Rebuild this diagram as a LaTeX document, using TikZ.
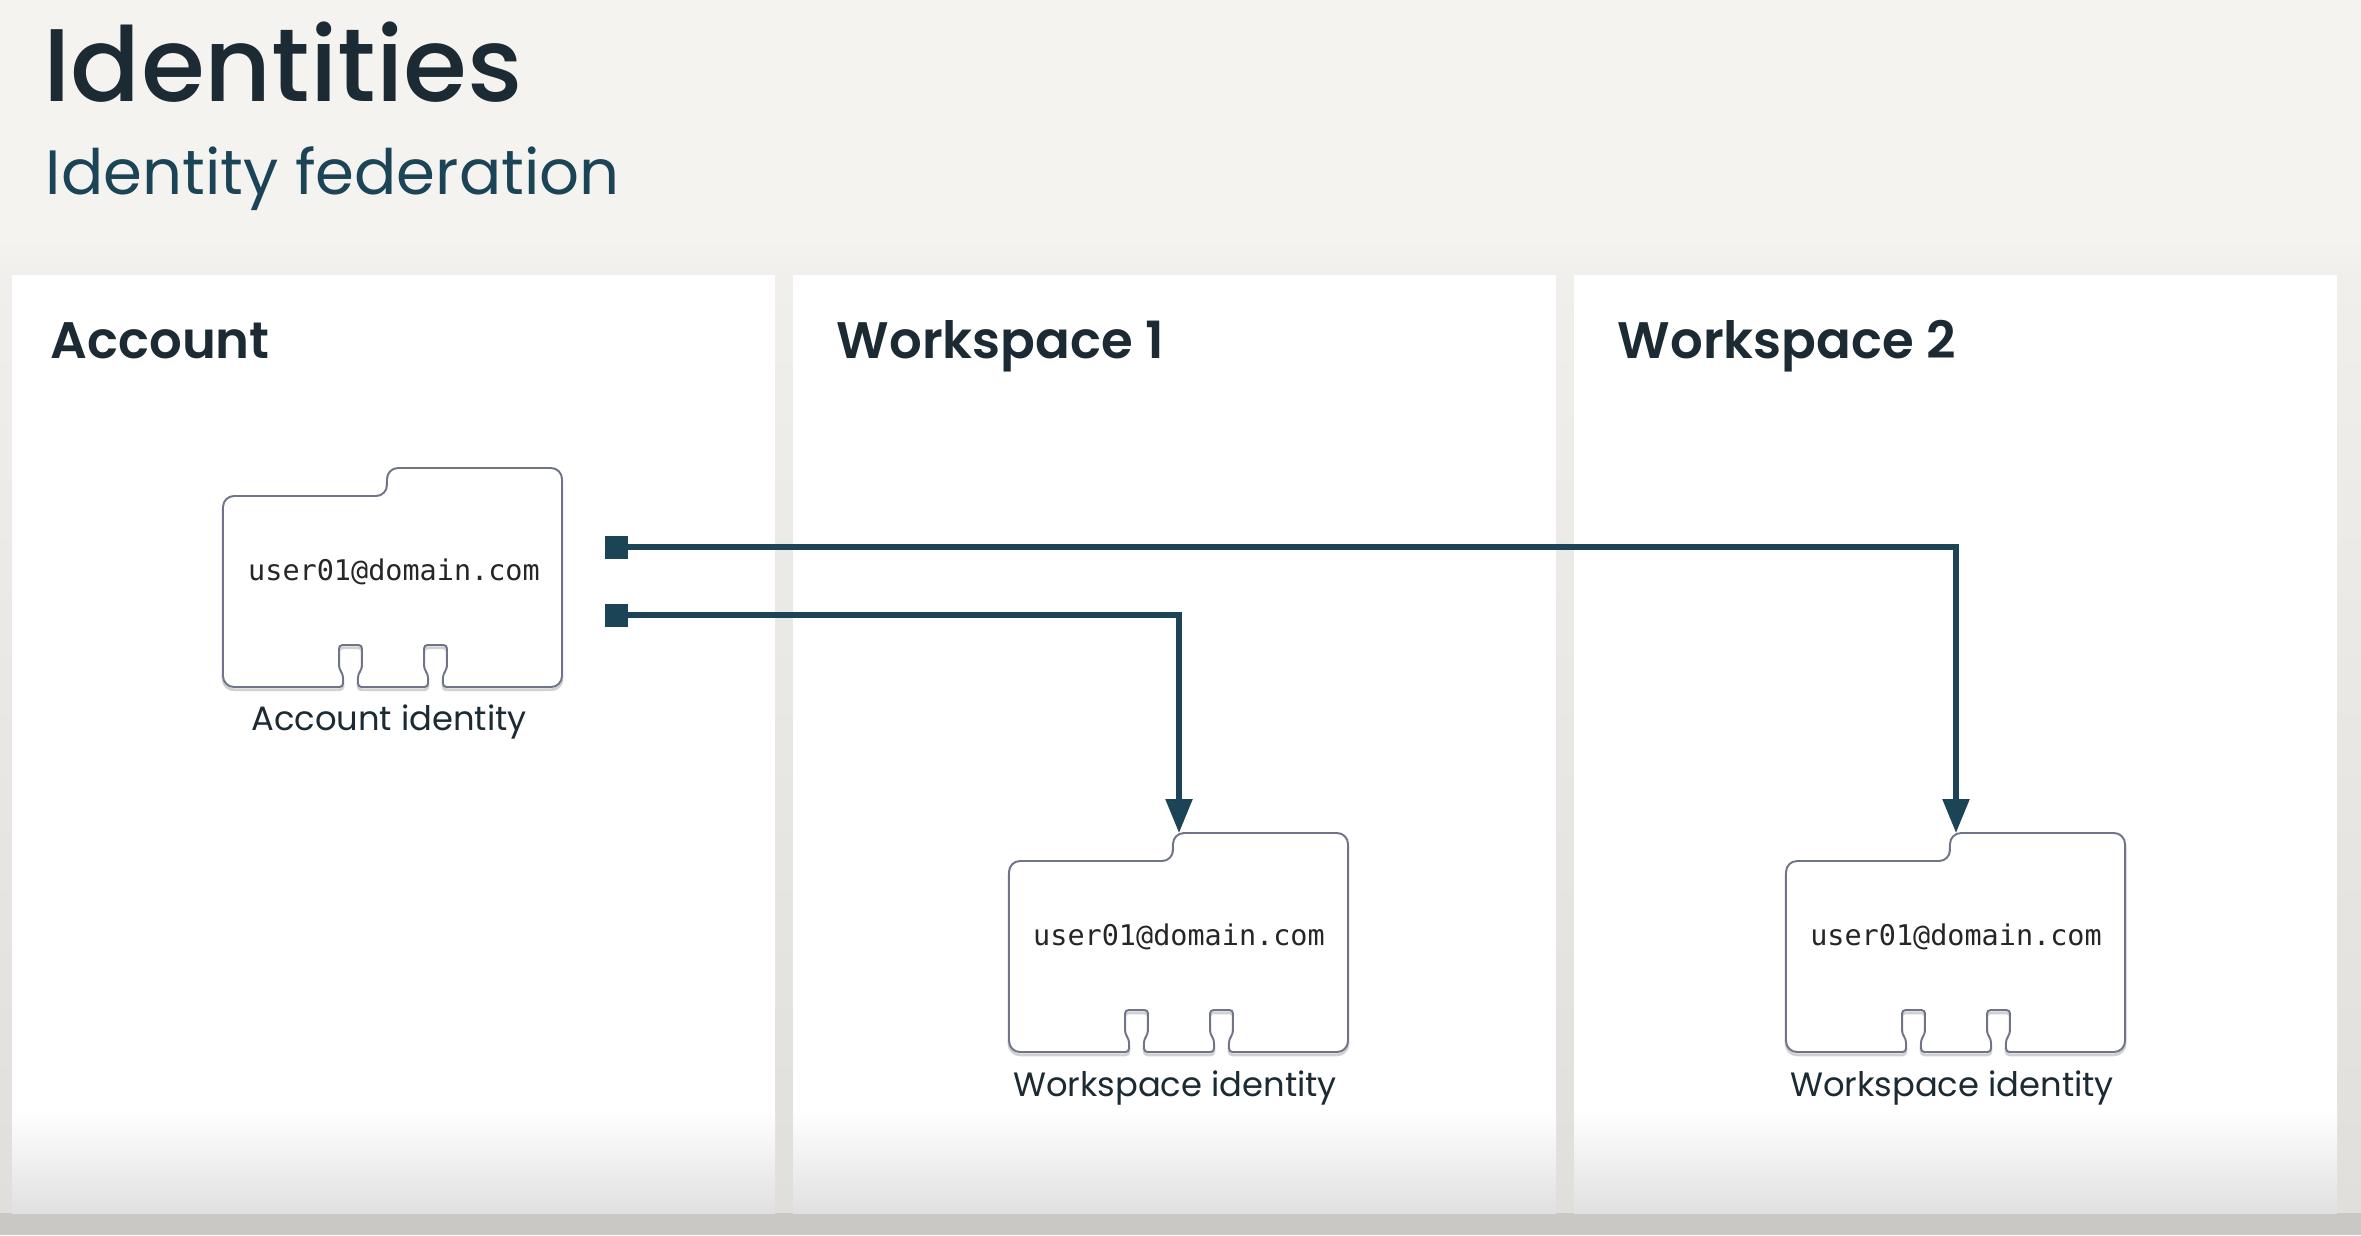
\documentclass[tikz,border=0pt]{standalone}
\usepackage{fontspec}
\setmainfont{Poppins}
\setmonofont{DejaVu Sans Mono}
\usetikzlibrary{positioning,arrows.meta}
\definecolor{pagebg}{HTML}{F5F3F0}
\definecolor{stripbg}{HTML}{C9C8C4}
\definecolor{gaptop}{HTML}{F0EFEC}
\definecolor{gapbottom}{HTML}{E0DFDB}
\definecolor{inkdark}{HTML}{1B2A33}
\definecolor{inkteal}{HTML}{1B4456}
\definecolor{cardline}{HTML}{6F7488}

\begin{document}
\begin{tikzpicture}[
    x=0.01cm, y=-0.01cm,
    panel/.style={fill=white, minimum width=7.63cm, minimum height=9.38cm, anchor=north west, outer sep=0pt, inner sep=0pt},
    panelfade/.style={bottom color=black!12, top color=white},
    paneltitle/.style={anchor=base west, font=\fontsize{14.6pt}{16pt}\selectfont\fontspec{Poppins SemiBold}, text=inkdark, inner sep=0pt},
    email/.style={font=\fontsize{8.1pt}{10pt}\selectfont\ttfamily, text=black!85, inner sep=0pt},
    caption/.style={font=\fontsize{9.6pt}{11pt}\selectfont, text=inkdark, inner sep=0pt},
    source/.style={rectangle, fill=inkteal, minimum size=0.23cm, inner sep=0pt, outer sep=0pt},
    arrow/.style={-{Triangle[length=0.34cm, width=0.26cm]}, inkteal, line width=1.55pt},
    cardedge/.style={draw=cardline, fill=white, line width=0.55pt,
      preaction={draw=black!18, line width=0.8pt, transform canvas={yshift=-0.8pt}}},
    card/.pic={
      \draw[cardedge, rounded corners=0.11cm]
        (164,0) -- (339,0) -- (339,219)
        [rounded corners=0.035cm] -- (220,219) -- (220,206) -- (224,201) -- (224,177) -- (201,177) -- (201,201) -- (205,206) -- (205,219)
        -- (135,219) -- (135,206) -- (139,201) -- (139,177) -- (116,177) -- (116,201) -- (120,206) -- (120,219)
        [rounded corners=0.11cm] -- (0,219) -- (0,28) -- (164,28) -- cycle;
      \coordinate (-tab) at (170,0);
    }
]

% Canvas
\useasboundingbox (0,0) rectangle (2361,1235);
\fill[pagebg] (0,0) rectangle (2361,1235);
\fill[top color=pagebg, bottom color=gaptop] (0,240) rectangle (2361,275);
\fill[top color=gaptop, bottom color=gapbottom] (0,275) rectangle (2361,1213);
\fill[stripbg] (0,1213) rectangle (2361,1235);

% Title
\node[anchor=base west, inner sep=0pt, font=\fontsize{29.4pt}{32pt}\selectfont\fontspec{Poppins Medium}, text=inkdark] (title) at (43,101) {Identities};
\node[anchor=base west, inner sep=0pt, font=\fontsize{17.8pt}{20pt}\selectfont, text=inkteal] (subtitle) at (45,194) {Identity federation};

% Panels
\node[panel] (account) at (12,275) {};
\node[panel] (space1) at (793,275) {};
\node[panel] (space2) at (1574,275) {};
\fill[panelfade] (12,1110) rectangle (775,1213);
\fill[panelfade] (793,1110) rectangle (1556,1213);
\fill[panelfade] (1574,1110) rectangle (2337,1213);

\node[paneltitle] (accounttitle) at (50,358) {Account};
\node[paneltitle] (space1title) at (836,358) {Workspace 1};
\node[paneltitle] (space2title) at (1617,358) {Workspace 2};

% Cards
\pic (acard) at (223,468) {card};
\pic (wcard) at (1009,833) {card};
\pic (vcard) at (1786,833) {card};

\node[email] (amail) at (394,572) {user01@domain.com};
\node[email] (wmail) at (1179,937) {user01@domain.com};
\node[email] (vmail) at (1956,937) {user01@domain.com};

\node[caption] (acap) at (389,722) {Account identity};
\node[caption] (wcap) at (1175,1088) {Workspace identity};
\node[caption] (vcap) at (1952,1088) {Workspace identity};

% Connectors
\node[source] (src1) at (616,547) {};
\node[source] (src2) at (616,615) {};
\draw[arrow] (src1.center) -| (vcard-tab);
\draw[arrow] (src2.center) -| (wcard-tab);

\end{tikzpicture}
\end{document}
